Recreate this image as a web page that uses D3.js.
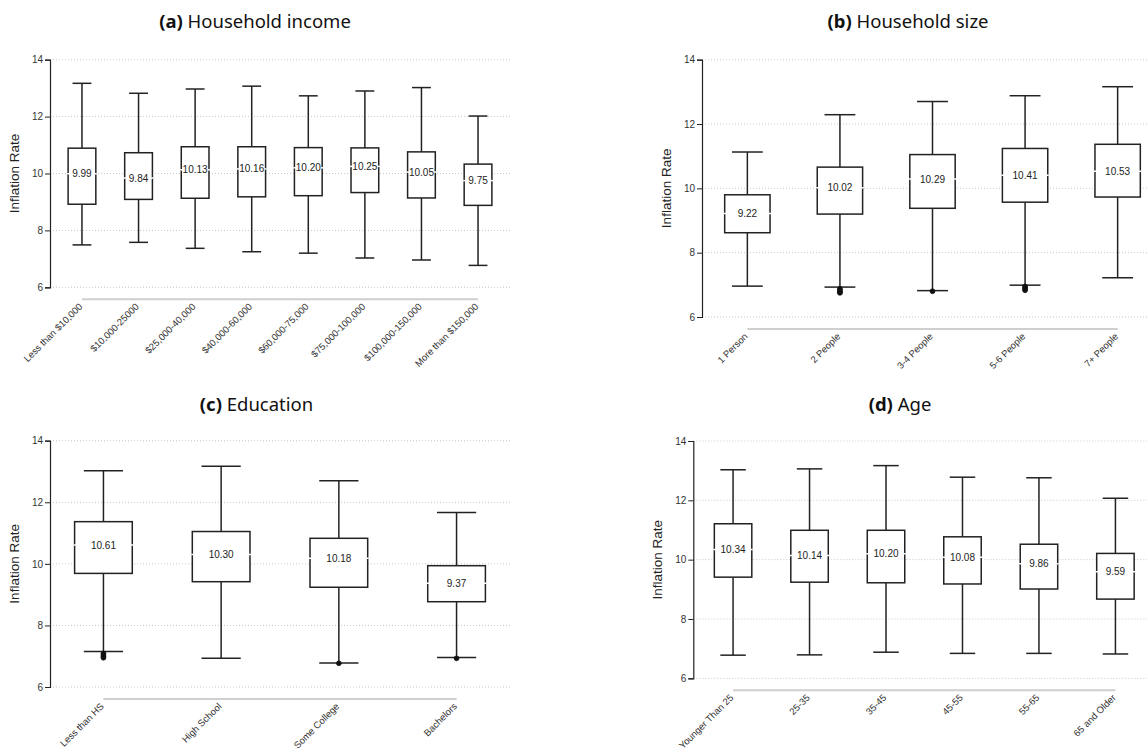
<!DOCTYPE html>
<html><head><meta charset="utf-8">
<script src="https://cdn.jsdelivr.net/npm/d3@7"></script>
<style>body{margin:0;background:#fff;overflow:hidden}</style>
</head><body><svg id="c" width="1147" height="748"></svg>
<script>
const yTicks = [6, 8, 10, 12, 14];

const incomeCategories = ["Less than $10,000", "$10,000-25000", "$25,000-40,000", "$40,000-60,000", "$60,000-75,000", "$75,000-100,000", "$100,000-150,000", "More than $150,000"];
const incomeLow = [7.49, 7.58, 7.37, 7.25, 7.20, 7.03, 6.96, 6.77];
const incomeQ1 = [8.92, 9.09, 9.13, 9.18, 9.22, 9.33, 9.14, 8.88];
const incomeMedian = [9.99, 9.84, 10.13, 10.16, 10.20, 10.25, 10.05, 9.75];
const incomeQ3 = [10.89, 10.73, 10.94, 10.94, 10.91, 10.90, 10.76, 10.33];
const incomeHigh = [13.17, 12.82, 12.97, 13.07, 12.73, 12.90, 13.02, 12.02];
const incomeOutliers = [[], [], [], [], [], [], [], []];

const sizeCategories = ["1 Person", "2 People", "3-4 People", "5-6 People", "7+ People"];
const sizeLow = [6.96, 6.93, 6.82, 6.99, 7.22];
const sizeQ1 = [8.62, 9.20, 9.38, 9.57, 9.73];
const sizeMedian = [9.22, 10.02, 10.29, 10.41, 10.53];
const sizeQ3 = [9.80, 10.66, 11.05, 11.24, 11.37];
const sizeHigh = [11.13, 12.29, 12.70, 12.88, 13.16];
const sizeOutliers = [[], [6.88, 6.84, 6.80, 6.77, 6.75], [6.80], [6.95, 6.91, 6.87, 6.83], []];

const eduCategories = ["Less than HS", "High School", "Some College", "Bachelors"];
const eduLow = [7.15, 6.93, 6.78, 6.96];
const eduQ1 = [9.69, 9.42, 9.24, 8.77];
const eduMedian = [10.61, 10.30, 10.18, 9.37];
const eduQ3 = [11.37, 11.05, 10.83, 9.94];
const eduHigh = [13.02, 13.17, 12.70, 11.67];
const eduOutliers = [[7.09, 7.04, 6.99, 6.95], [], [6.77], [6.93]];

const ageCategories = ["Younger Than 25", "25-35", "35-45", "45-55", "55-65", "65 and Older"];
const ageLow = [6.78, 6.79, 6.88, 6.84, 6.84, 6.82];
const ageQ1 = [9.41, 9.24, 9.22, 9.18, 9.01, 8.67];
const ageMedian = [10.34, 10.14, 10.20, 10.08, 9.86, 9.59];
const ageQ3 = [11.21, 10.99, 10.99, 10.77, 10.52, 10.21];
const ageHigh = [13.03, 13.06, 13.17, 12.78, 12.76, 12.07];
const ageOutliers = [[], [], [], [], [], []];

const svg = d3.select("#c");
const TITLE_FONT = "'Noto Sans', 'Open Sans', sans-serif";
const BODY_FONT = "'Liberation Sans', Arial, sans-serif";

function drawPanel(cfg) {
  const g = svg.append("g");
  const y = d3.scaleLinear().domain([6, 14]).range([cfg.bottom, cfg.top]);
  const x = d3.scalePoint().domain(cfg.cats).range([cfg.left, cfg.right]).padding(cfg.padding);
  const step = x.step();
  const bw = step * 0.49;
  const cw = bw * 0.68;

  // grid
  g.append("g").selectAll("line").data(yTicks).join("line")
    .attr("x1", cfg.left).attr("x2", cfg.right)
    .attr("y1", d => y(d)).attr("y2", d => y(d))
    .attr("stroke", "#c8c8c8").attr("stroke-width", 1).attr("stroke-dasharray", "1,2");

  // y axis
  const ya = g.append("g").attr("transform", `translate(${cfg.left},0)`)
    .call(d3.axisLeft(y).tickValues(yTicks).tickSize(5).tickPadding(2).tickFormat(d3.format("d")));
  ya.select(".domain").attr("stroke", "#222").attr("stroke-width", 1.2);
  ya.selectAll(".tick line").attr("stroke", "#222");
  ya.selectAll(".tick text").attr("font-family", BODY_FONT).attr("font-size", 10).attr("fill", "#333");

  // x axis grey line
  const axY = cfg.bottom + 12;
  g.append("line")
    .attr("x1", x(cfg.cats[0])).attr("x2", x(cfg.cats[cfg.cats.length - 1]))
    .attr("y1", axY).attr("y2", axY)
    .attr("stroke", "#cfcfcf").attr("stroke-width", 2);
  g.append("g").selectAll("text").data(cfg.cats).join("text")
    .attr("transform", d => `translate(${x(d) + 1},${axY + 8}) rotate(-45)`)
    .attr("text-anchor", "end")
    .attr("font-family", BODY_FONT).attr("font-size", 9.5).attr("fill", "#333")
    .text(d => d);

  // y label
  g.append("text")
    .attr("transform", `translate(${cfg.yLabelX},${(cfg.top + cfg.bottom) / 2}) rotate(-90)`)
    .attr("text-anchor", "middle").attr("dominant-baseline", "middle")
    .attr("font-family", BODY_FONT).attr("font-size", 13.5).attr("fill", "#222")
    .text("Inflation Rate");

  // title
  const t = g.append("text").attr("x", cfg.titleX).attr("y", cfg.titleY)
    .attr("text-anchor", "middle").attr("font-family", TITLE_FONT).attr("font-size", 18.5).attr("fill", "#111");
  t.append("tspan").attr("font-weight", "bold").text(cfg.tag);
  t.append("tspan").text(" " + cfg.title);

  const rows = cfg.cats.map((c, i) => ({c, lo: cfg.lo[i], q1: cfg.q1[i], med: cfg.med[i], q3: cfg.q3[i], hi: cfg.hi[i], out: cfg.out[i]}));
  const bx = g.append("g").selectAll("g").data(rows).join("g");
  const stroke = "#222", sw = 1.5;
  // whiskers
  bx.append("line").attr("x1", d => x(d.c)).attr("x2", d => x(d.c))
    .attr("y1", d => y(d.hi)).attr("y2", d => y(d.q3)).attr("stroke", stroke).attr("stroke-width", sw);
  bx.append("line").attr("x1", d => x(d.c)).attr("x2", d => x(d.c))
    .attr("y1", d => y(d.q1)).attr("y2", d => y(d.lo)).attr("stroke", stroke).attr("stroke-width", sw);
  // caps
  bx.append("line").attr("x1", d => x(d.c) - cw / 2).attr("x2", d => x(d.c) + cw / 2)
    .attr("y1", d => y(d.hi)).attr("y2", d => y(d.hi)).attr("stroke", stroke).attr("stroke-width", sw);
  bx.append("line").attr("x1", d => x(d.c) - cw / 2).attr("x2", d => x(d.c) + cw / 2)
    .attr("y1", d => y(d.lo)).attr("y2", d => y(d.lo)).attr("stroke", stroke).attr("stroke-width", sw);
  // box
  bx.append("rect").attr("x", d => x(d.c) - bw / 2).attr("width", bw)
    .attr("y", d => y(d.q3)).attr("height", d => y(d.q1) - y(d.q3))
    .attr("fill", "#fff").attr("stroke", stroke).attr("stroke-width", sw);
  // median (white)
  bx.append("line").attr("x1", d => x(d.c) - bw / 2 - 1).attr("x2", d => x(d.c) + bw / 2 + 1)
    .attr("y1", d => y(d.med)).attr("y2", d => y(d.med)).attr("stroke", "#fff").attr("stroke-width", 1.5);
  // outliers
  bx.each(function(d) {
    d3.select(this).selectAll("circle").data(d.out).join("circle")
      .attr("cx", x(d.c)).attr("cy", v => y(v)).attr("r", 2.4)
      .attr("fill", "#111").attr("stroke", "#111").attr("stroke-width", 0.8);
  });
  // median labels
  bx.append("text").attr("x", d => x(d.c)).attr("y", d => y(d.med))
    .attr("text-anchor", "middle").attr("dominant-baseline", "central")
    .attr("font-family", BODY_FONT).attr("font-size", 10).attr("fill", "#222")
    .text(d => d3.format(".2f")(d.med));
}

drawPanel({cats: incomeCategories, lo: incomeLow, q1: incomeQ1, med: incomeMedian, q3: incomeQ3, hi: incomeHigh, out: incomeOutliers,
  left: 50, right: 510, top: 59.7, bottom: 287.3, padding: 0.565, yLabelX: 15, titleX: 255, titleY: 28, tag: "(a)", title: "Household income"});
drawPanel({cats: sizeCategories, lo: sizeLow, q1: sizeQ1, med: sizeMedian, q3: sizeQ3, hi: sizeHigh, out: sizeOutliers,
  left: 702, right: 1163, top: 59.7, bottom: 317, padding: 0.49, yLabelX: 667, titleX: 908, titleY: 28, tag: "(b)", title: "Household size"});
drawPanel({cats: eduCategories, lo: eduLow, q1: eduQ1, med: eduMedian, q3: eduQ3, hi: eduHigh, out: eduOutliers,
  left: 50, right: 510, top: 440.7, bottom: 687, padding: 0.454, yLabelX: 15, titleX: 256.5, titleY: 410.5, tag: "(c)", title: "Education"});
drawPanel({cats: ageCategories, lo: ageLow, q1: ageQ1, med: ageMedian, q3: ageQ3, hi: ageHigh, out: ageOutliers,
  left: 693.3, right: 1155.2, top: 441, bottom: 678.3, padding: 0.52, yLabelX: 658, titleX: 900, titleY: 410.5, tag: "(d)", title: "Age"});
</script>
</body></html>
